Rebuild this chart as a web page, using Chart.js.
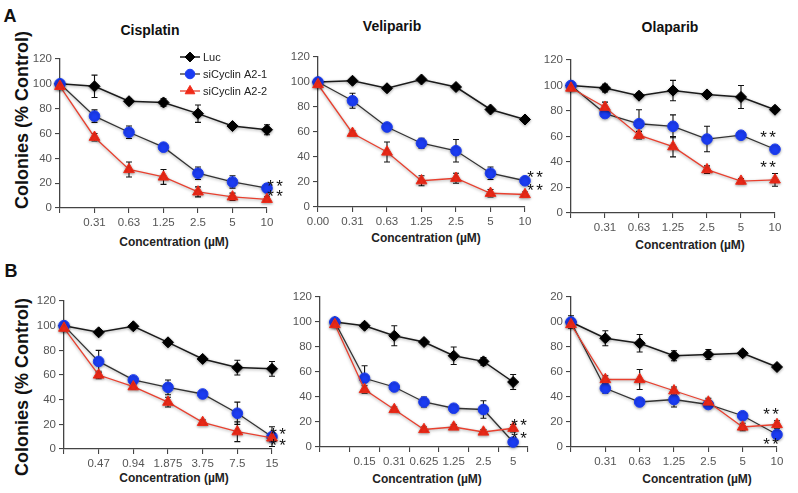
<!DOCTYPE html>
<html>
<head>
<meta charset="utf-8">
<script src="https://cdn.jsdelivr.net/npm/chart.js@4.4.1/dist/chart.umd.min.js"></script>
<style>
  body { margin: 0; background: #fff; width: 798px; height: 493px; overflow: hidden; position: relative;
         font-family: "Liberation Sans", Arial, sans-serif; }
  canvas { position: absolute; }
  .t { position: absolute; white-space: nowrap; transform: translate(-50%, -50%); font-weight: bold; color: #111; }
  .big { font-size: 18px; }
  .ttl { font-size: 14px; }
  .ax { font-size: 12px; color: #222; }
  .rot { transform: translate(-50%, -50%) rotate(-90deg); }
</style>
</head>
<body>
<div class="t big" style="left:10px;top:16px">A</div>
<div class="t big" style="left:11px;top:271px">B</div>
<div class="t big rot" style="left:22px;top:120px">Colonies (% Control)</div>
<div class="t big rot" style="left:22px;top:387px">Colonies (% Control)</div>
<div class="t ttl" style="left:150px;top:30px">Cisplatin</div>
<div class="t ttl" style="left:392px;top:26px">Veliparib</div>
<div class="t ttl" style="left:670px;top:27px">Olaparib</div>
<div class="t ax" style="left:174px;top:242px">Concentration (µM)</div>
<div class="t ax" style="left:426px;top:238px">Concentration (µM)</div>
<div class="t ax" style="left:690px;top:245px">Concentration (µM)</div>
<div class="t ax" style="left:174px;top:478px">Concentration (µM)</div>
<div class="t ax" style="left:427px;top:479px">Concentration (µM)</div>
<div class="t ax" style="left:697px;top:479px">Concentration (µM)</div>

<canvas id="cA1"></canvas>
<canvas id="cA2"></canvas>
<canvas id="cA3"></canvas>
<canvas id="cB1"></canvas>
<canvas id="cB2"></canvas>
<canvas id="cB3"></canvas>

<script>
// series names (legend)
const seriesNames = ['Luc', 'siCyclin A2-1', 'siCyclin A2-2'];

// A: Cisplatin
const cisLabels = ['', '0.31', '0.63', '1.25', '2.5', '5', '10'];
const cisLuc = [100, 98, 86, 85, 76, 66, 63];
const cisLucErr = [0, 9, 2, 3, 7, 2, 4];
const cisA21 = [100, 74, 61, 49, 28, 21, 16];
const cisA21Err = [0, 5, 5, 2, 5, 5, 3];
const cisA22 = [98, 57, 31, 25, 13, 9, 7];
const cisA22Err = [0, 3, 6, 6, 4, 3, 2];
const cisStars = [[6, 20.9], [6, 12.1]];

// A: Veliparib
const velLabels = ['0.00', '0.31', '0.63', '1.25', '2.5', '5', '10'];
const velLuc = [100, 101, 95, 102, 96, 78, 70];
const velLucErr = [0, 0, 0, 0, 0, 0, 0];
const velA21 = [100, 85, 64, 51, 45, 27, 21];
const velA21Err = [0, 6, 2, 4, 9, 5, 3];
const velA22 = [98, 59, 44, 21, 23, 11, 10];
const velA22Err = [0, 2, 8, 4, 4, 3, 2];
const velStars = [[6, 26.7], [6, 16.3]];

// A: Olaparib
const olaLabels = ['', '0.31', '0.63', '1.25', '2.5', '5', '10'];
const olaLuc = [100, 98, 92, 96, 93, 91, 81];
const olaLucErr = [0, 3, 2, 8, 2, 9, 2];
const olaA21 = [100, 78, 70, 68, 58, 61, 50];
const olaA21Err = [0, 2, 11, 9, 10, 2, 2];
const olaA22 = [98, 83, 61, 52, 34, 25, 26];
const olaA22Err = [0, 4, 3, 8, 3, 2, 5];
const olaStars = [[6, 62], [6, 39.2]];

// B: panel 1
const b1Labels = ['', '0.47', '0.94', '1.875', '3.75', '7.5', '15'];
const b1Luc = [100, 94.6, 99.5, 86.5, 73, 66, 65];
const b1LucErr = [0, 2, 0, 2, 2, 6, 6];
const b1A21 = [100, 71, 56, 50, 44.6, 29, 10];
const b1A21Err = [0, 9, 2, 6, 2, 9, 8];
const b1A22 = [98, 60, 50.5, 38, 21.6, 14, 9];
const b1A22Err = [0, 3, 2, 4, 2, 8, 3];
const b1Stars = [[6, 14.6], [6, 5.7]];

// B: panel 2
const b2Labels = ['', '0.15', '0.31', '0.625', '1.25', '2.5', '5'];
const b2Luc = [100, 97, 89, 84, 73, 68.5, 52];
const b2LucErr = [0, 2, 8, 2, 7, 3, 6];
const b2A21 = [100, 55, 48, 36, 31, 30, 4];
const b2A21Err = [0, 10, 2, 4, 3, 7, 2];
const b2A22 = [98, 46, 30, 14, 16, 12, 15];
const b2A22Err = [0, 3, 2, 2, 2, 2, 3];
const b2Stars = [[6, 20.8], [6, 10.4]];

// B: panel 3
const b3Labels = ['', '0.31', '0.63', '1.25', '2.5', '5', '10'];
const b3Luc = [100, 87, 83, 73, 74, 75, 64];
const b3LucErr = [5, 6, 7, 4, 4, 2, 2];
const b3A21 = [100, 47, 36, 38, 34, 25, 10];
const b3A21Err = [0, 4, 2, 6, 3, 2, 3];
const b3A22 = [98, 54, 54, 45, 36, 16, 18];
const b3A22Err = [0, 3, 8, 3, 3, 3, 3];
const b3Stars = [[6, 29.6], [6, 5.6]];

const YW = 40, XH = 26, PT = 14, PR = 26;
const tickFont = { family: '"Liberation Sans", Arial, sans-serif', size: 11.5 };

const styles = [
  { borderColor: '#1a1a1a', pointBackgroundColor: '#000', pointBorderColor: '#000', pointStyle: 'rectRot', pointRadius: 5.5, borderWidth: 1.5, order: 3 },
  { borderColor: '#333', pointBackgroundColor: '#1b3cf2', pointBorderColor: '#1b3cf2', pointStyle: 'circle', pointRadius: 5.3, borderWidth: 1.3, order: 2 },
  { borderColor: '#e8402f', pointBackgroundColor: '#f02a18', pointBorderColor: '#f02a18', pointStyle: 'triangle', pointRadius: 6.2, borderWidth: 1.3, order: 1 }
];

// per-canvas extras (stars, legend flag)
const extras = {};

function drawErrs(chart) {
  const ctx = chart.ctx, y = chart.scales.y;
  ctx.save();
  ctx.strokeStyle = '#111';
  ctx.lineWidth = 1.1;
  chart.data.datasets.forEach((ds, di) => {
    const meta = chart.getDatasetMeta(di);
    ds.errs.forEach((e, i) => {
      if (!e) return;
      const px = meta.data[i].x, v = ds.data[i];
      const top = y.getPixelForValue(v + e), bot = y.getPixelForValue(v - e);
      ctx.beginPath();
      ctx.moveTo(px, top); ctx.lineTo(px, bot);
      ctx.moveTo(px - 3, top); ctx.lineTo(px + 3, top);
      ctx.moveTo(px - 3, bot); ctx.lineTo(px + 3, bot);
      ctx.stroke();
    });
  });
  ctx.restore();
}

const panelPlugin = {
  id: 'panelExtras',
  beforeDatasetsDraw(chart) {
    drawErrs(chart);
    const ctx = chart.ctx;
    ctx.save();
    ctx.shadowColor = 'rgba(0,0,0,0.35)';
    ctx.shadowBlur = 3;
    ctx.shadowOffsetY = 1;
  },
  afterDatasetsDraw(chart) {
    const ctx = chart.ctx;
    ctx.restore();
    const extra = extras[chart.canvas.id];
    if (!extra) return;
    const x = chart.scales.x, y = chart.scales.y;
    // significance stars
    ctx.save();
    ctx.fillStyle = '#111';
    ctx.font = '17px "Liberation Sans", Arial, sans-serif';
    ctx.textAlign = 'center';
    ctx.textBaseline = 'alphabetic';
    extra.stars.forEach(([i, v]) => {
      const px = x.getPixelForValue(i) + extra.starDx, py = y.getPixelForValue(v) + 9.5;
      ctx.fillText('*', px - 4.5, py);
      ctx.fillText('*', px + 4.5, py);
    });
    ctx.restore();
    // legend (first panel only)
    if (extra.legend) {
      const a = chart.chartArea;
      ctx.save();
      chart.data.datasets.forEach((ds, i) => {
        const lx = a.right - 87, ly = a.top - 2 + 17 * i;
        ctx.strokeStyle = ds.borderColor;
        ctx.lineWidth = ds.borderWidth;
        ctx.beginPath(); ctx.moveTo(lx, ly); ctx.lineTo(lx + 20, ly); ctx.stroke();
        ctx.fillStyle = ds.pointBackgroundColor;
        ctx.strokeStyle = ds.pointBorderColor;
        ctx.lineWidth = 1;
        Chart.helpers.drawPoint(ctx, { pointStyle: ds.pointStyle, radius: ds.pointRadius * 0.9, rotation: 0, borderWidth: 1 }, lx + 10, ly);
        ctx.fillStyle = '#222';
        ctx.font = '11px "Liberation Sans", Arial, sans-serif';
        ctx.textBaseline = 'middle';
        ctx.fillText(ds.label, lx + 23, ly + 1);
      });
      ctx.restore();
    }
  }
};

function makePanel(id, area, labels, vals, errs, extra) {
  extras[id] = extra;
  const cv = document.getElementById(id);
  const left = area.L - YW, top = area.T - PT;
  const w = area.R + PR - left, h = area.B + XH - top;
  cv.width = w; cv.height = h;
  cv.style.left = left + 'px'; cv.style.top = top + 'px';
  cv.style.width = w + 'px'; cv.style.height = h + 'px';

  const datasets = vals.map((d, i) => Object.assign({
    label: seriesNames[i], data: d, errs: errs[i], tension: 0, clip: false, pointBorderWidth: 1
  }, styles[i]));

  return new Chart(cv.getContext('2d'), {
    type: 'line',
    data: { labels: labels, datasets: datasets },
    options: {
      responsive: false,
      animation: false,
      devicePixelRatio: 1,
      layout: { padding: { top: PT, right: PR, left: 0, bottom: 0 } },
      plugins: { legend: { display: false }, tooltip: { enabled: false } },
      scales: {
        x: {
          offset: !!extra.offset,
          grid: { display: true, offset: !!extra.offset, drawOnChartArea: false, drawTicks: true, tickLength: 5, tickColor: '#444', lineWidth: 1.1 },
          border: { display: true, color: '#444', width: 1.3 },
          ticks: { autoSkip: false, maxRotation: 0, padding: 3, color: '#555', font: tickFont },
          afterFit(s) { s.height = XH; s.paddingLeft = 0; s.paddingRight = 0; }
        },
        y: {
          min: 0, max: 120,
          grid: { display: true, drawOnChartArea: false, drawTicks: true, tickLength: 5, tickColor: '#444', lineWidth: 1.1 },
          border: { display: true, color: '#444', width: 1.3 },
          ticks: { stepSize: 20, padding: 3, color: '#555', font: tickFont,
                   callback: extra.cut ? (v) => (v >= 100 ? String(v).slice(1) : String(v)) : (v) => String(v) },
          afterFit(s) { s.width = YW; s.paddingTop = 0; s.paddingBottom = 0; }
        }
      }
    },
    plugins: [panelPlugin]
  });
}

makePanel('cA1', { L: 60, R: 267, T: 59, B: 208 }, cisLabels,
  [cisLuc, cisA21, cisA22], [cisLucErr, cisA21Err, cisA22Err], { stars: cisStars, starDx: 8, legend: true });
makePanel('cA2', { L: 318, R: 525, T: 57, B: 207 }, velLabels,
  [velLuc, velA21, velA22], [velLucErr, velA21Err, velA22Err], { stars: velStars, starDx: 10 });
makePanel('cA3', { L: 571, R: 775, T: 60, B: 213 }, olaLabels,
  [olaLuc, olaA21, olaA22], [olaLucErr, olaA21Err, olaA22Err], { stars: olaStars, starDx: -7 });
makePanel('cB1', { L: 64, R: 272, T: 301, B: 449 }, b1Labels,
  [b1Luc, b1A21, b1A22], [b1LucErr, b1A21Err, b1A22Err], { stars: b1Stars, starDx: 6 });
makePanel('cB2', { L: 320, R: 528, T: 297, B: 447 }, b2Labels,
  [b2Luc, b2A21, b2A22], [b2LucErr, b2A21Err, b2A22Err], { stars: b2Stars, starDx: 6, offset: true });
makePanel('cB3', { L: 571, R: 777, T: 297, B: 447 }, b3Labels,
  [b3Luc, b3A21, b3A22], [b3LucErr, b3A21Err, b3A22Err], { stars: b3Stars, starDx: -6, cut: true });
</script>
</body>
</html>
